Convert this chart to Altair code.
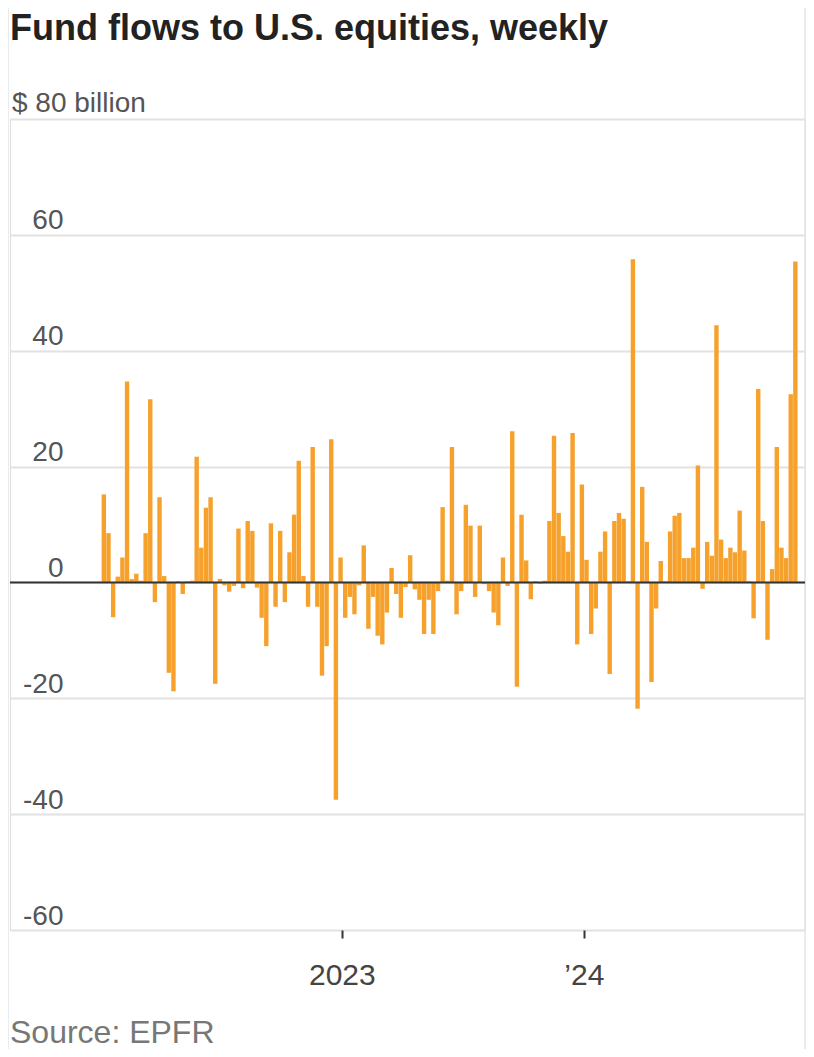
import altair as alt
import pandas as pd

# ---- data ----
title_text = "Fund flows to U.S. equities, weekly"
unit_label = "$ 80 billion"
source_text = "Source: EPFR"
start_date = "2022-01-07"
flows = [
    15.2, 8.5, -6.0, 1.0, 4.3, 34.7, 0.6, 1.5, 0.3, 8.5,
    31.6, -3.4, 14.7, 1.1, -15.6, -18.8, 0.2, -2.0, 0.2, 0.3,
    21.7, 6.0, 12.9, 14.7, -17.5, 0.6, -0.5, -1.6, -0.6, 9.3,
    -1.0, 10.6, 8.9, -0.9, -6.1, -11.0, 10.2, -4.2, 8.9, -3.4,
    5.2, 11.7, 21.0, 1.1, -4.2, 23.4, -4.2, -16.1, -11.0, 24.7,
    -37.5, 4.3, -6.1, -2.5, -5.5, -0.5, 6.4, -8.0, -2.5, -9.2,
    -10.7, -5.2, 2.5, -2.0, -6.1, -0.8, 4.7, -1.2, -3.0, -8.9,
    -3.0, -8.9, -1.5, 13.0, 0.3, 23.4, -5.5, -1.5, 13.4, 9.8,
    -2.5, 9.8, -0.3, -1.5, -5.2, -7.4, 4.3, -0.6, 26.1, -18.0,
    11.7, 3.8, -2.9, 0.2, -0.2, 0.3, 10.6, 25.3, 12.0, 8.0,
    5.3, 25.8, -10.7, 16.9, 3.9, -8.9, -4.5, 5.3, 8.8, -15.8,
    10.6, 12.0, 11.0, 0.2, 55.8, -21.8, 16.5, 7.0, -17.2, -4.5,
    3.7, 0.2, 8.8, 11.5, 12.0, 4.2, 4.2, 6.0, 20.2, -1.1,
    7.0, 4.6, 44.4, 7.4, 4.2, 6.0, 5.2, 12.4, 5.5, 0.2,
    -6.2, 33.4, 10.6, -9.9, 2.3, 23.4, 6.0, 4.2, 32.5, 55.4,
]
y_ticks = [-60, -40, -20, 0, 20, 40, 60, 80]
x_tick_years = [2023, 2024]
x_tick_labels = ["2023", "\u201924"]

dates = pd.date_range(start_date, periods=len(flows), freq="7D").strftime("%Y-%m-%d")
df = pd.DataFrame({"date": list(dates), "value": flows})

FONT = "Liberation Sans, Arial, sans-serif"
ORANGE = "#F5A12C"
W, H = 795, 811

x_label_expr = " : ".join(
    f"utcyear(datum.value) == {yr} ? '{lab}'" for yr, lab in zip(x_tick_years, x_tick_labels)
) + " : ''"

x_enc = alt.X(
    "date:T",
    scale=alt.Scale(
        type="utc",
        domain=[alt.DateTime(year=2021, month=8, date=26, utc=True),
                alt.DateTime(year=2024, month=11, date=22, utc=True)],
    ),
    axis=alt.Axis(
        title=None, domain=False, grid=False, ticks=True, tickSize=8,
        tickColor="#333333", tickWidth=2,
        values=[alt.DateTime(year=y, month=1, date=1, utc=True) for y in x_tick_years],
        labelExpr=x_label_expr, labelFont=FONT, labelFontSize=30,
        labelColor="#444444", labelPadding=22, labelFlush=False,
    ),
)

y_enc = alt.Y(
    "value:Q",
    scale=alt.Scale(domain=[y_ticks[0], y_ticks[-1]], nice=False, zero=True),
    axis=alt.Axis(
        title=None, domain=False, ticks=False, tickSize=0, values=y_ticks,
        labelExpr=f"datum.value == {y_ticks[-1]} ? '' : '' + datum.value",
        labelAlign="right", labelBaseline="alphabetic", labelPadding=-53,
        labelFont=FONT, labelFontSize=28, labelColor="#555555", labelOffset=-6,
        grid=True, gridColor="#e2e2e2", gridWidth=2,
    ),
)

bars = alt.Chart(df).mark_bar(width=4.4, color=ORANGE).encode(x=x_enc, y=y_enc)

zero = alt.Chart(pd.DataFrame({"v": [0]})).mark_rule(color="#333333", strokeWidth=2).encode(
    y=alt.Y("v:Q")
)

unit = alt.Chart(pd.DataFrame({"t": [unit_label]})).mark_text(
    align="left", baseline="alphabetic", font=FONT, fontSize=28, color="#555555", dy=-7
).encode(x=alt.value(2), y=alt.datum(y_ticks[-1]), text="t:N")

title = alt.Chart(pd.DataFrame({"t": [title_text]})).mark_text(
    align="left", baseline="alphabetic", font=FONT, fontSize=36, fontWeight="bold", color="#222222"
).encode(x=alt.value(0), y=alt.value(-79), text="t:N")

source = alt.Chart(pd.DataFrame({"t": [source_text]})).mark_text(
    align="left", baseline="alphabetic", font=FONT, fontSize=32, color="#777777"
).encode(x=alt.value(0), y=alt.value(H + 113), text="t:N")

border_df = pd.DataFrame({"k": [0]})
left_border = alt.Chart(border_df).mark_rule(color="#dfe6ea", strokeWidth=1.5).encode(
    x=alt.value(-2), y=alt.value(-119), y2=alt.value(H + 130)
)
right_border = alt.Chart(border_df).mark_rule(color="#dfe6ea", strokeWidth=1.5).encode(
    x=alt.value(W), y=alt.value(-119), y2=alt.value(H + 130)
)

chart = alt.layer(left_border, right_border, bars, zero, unit, title, source).properties(
    width=W, height=H,
    autosize=alt.AutoSizeParams(type="none"),
    padding={"left": 2, "top": 111, "right": 1, "bottom": 119},
).configure_view(stroke=None).configure(background="white")

chart.save("out.html", embed_options={"renderer": "svg", "actions": False})
